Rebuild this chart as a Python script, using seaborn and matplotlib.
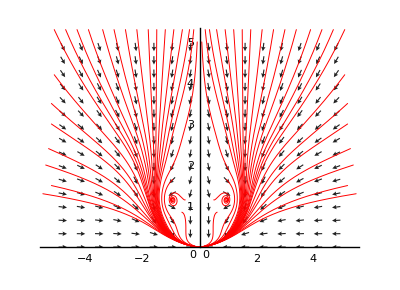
import numpy as np
import pandas as pd
import matplotlib
matplotlib.use("Agg")
import matplotlib.pyplot as plt
import seaborn as sns

# ---- data ----
x_grid = np.linspace(-4.8, 4.8, 16)
y_grid = np.linspace(0.0, 4.875, 16)
x_ticks = [-4, -2, 2, 4]
y_ticks = [1, 2, 3, 4, 5]
# initial points of the left-half solution curves (mirrored to the right)
seed_x = [-5.1, -4.7, -4.3, -3.9, -3.4, -3.0, -2.6, -2.2, -1.8, -1.5, -1.2, -0.9, -0.6, -0.35, -0.2, -0.08,
          -5.5, -5.2, -5.4, -5.3, -5.2, -5.2, -5.1, -0.5, -0.94, -0.62]
seed_y = [5.3, 5.3, 5.3, 5.3, 5.3, 5.3, 5.3, 5.3, 5.3, 5.3, 5.3, 5.3, 5.3, 5.3, 5.3, 5.0,
          1.3, 1.5, 2.0, 2.4, 3.0, 3.5, 4.2, 1.15, 1.65, 0.85]
# spiral centre of the left half
spiral_x, spiral_y = -0.94, 1.15

# ODE model parameters
q_inf, q_amp, q_rate = 2.4, 3.4, 1.5
a0, a1, a_mid, a_wid, b_beta = 0.6, 3.5, 1.2, 1.0, 0.24
omega, mu, sig_x, sig_up, sig_dn = 12.0, 1.3, 0.5, 0.7, 0.42


def field(x, y):
    Q = q_inf - q_amp * np.exp(-q_rate * y)
    bu = x * (Q - x ** 2)
    a = a0 + a1 * np.exp(-((y - a_mid) / a_wid) ** 2)
    bv = -y * (a + b_beta * y * x ** 2)
    sx = np.where(x < 0, -1.0, 1.0)
    dx = np.abs(x) + spiral_x
    dy = y - spiral_y
    sy = np.where(dy > 0, sig_up, sig_dn)
    w = np.exp(-(dx ** 2 / sig_x ** 2 + dy ** 2 / sy ** 2))
    # focus in the |x| frame (clockwise on the right, mirrored on the left)
    lu = omega * dy - mu * dx
    lv = -omega * dx - mu * dy
    return (1 - w) * bu + w * sx * lu, (1 - w) * bv + w * lv


def trace(x0, y0, h=0.012, n=3000):
    pts = [(x0, y0)]
    x, y = x0, y0

    def f(x, y):
        u, v = field(x, y)
        s = np.hypot(u, v)
        if s < 1e-9:
            return 0.0, 0.0
        return u / s, v / s

    for _ in range(n):
        k1 = f(x, y)
        k2 = f(x + h / 2 * k1[0], y + h / 2 * k1[1])
        k3 = f(x + h / 2 * k2[0], y + h / 2 * k2[1])
        k4 = f(x + h * k3[0], y + h * k3[1])
        x += h / 6 * (k1[0] + 2 * k2[0] + 2 * k3[0] + k4[0])
        y += h / 6 * (k1[1] + 2 * k2[1] + 2 * k3[1] + k4[1])
        pts.append((x, y))
        if np.hypot(x, y) < 0.02 or y < 0 or abs(x) > 5.7 or y > 5.5:
            break
        if np.hypot(abs(x) + spiral_x, y - spiral_y) < 0.025:
            break
    return np.array(pts)


sns.set_theme(style="white")
fig = plt.figure(figsize=(4, 2.9), dpi=100)
ax = fig.add_axes([0.1, 0.148, 0.7975, 0.757])

# direction arrows
XX, YY = np.meshgrid(x_grid, y_grid)
U, V = field(XX, YY)
S = np.hypot(U, V)
S[S == 0] = 1
ax.quiver(XX, YY, U / S, V / S, pivot="mid", angles="xy", scale_units="width",
          scale=38, width=0.0035, headwidth=4, headlength=4, headaxislength=3.5,
          color="#222222", zorder=2)

# solution curves
for sx, sy in zip(seed_x, seed_y):
    for sgn in (1, -1):
        p = trace(sgn * sx, sy)
        df = pd.DataFrame({"x": p[:, 0], "y": p[:, 1]})
        sns.lineplot(data=df, x="x", y="y", sort=False, estimator=None,
                     color="#ff0000", lw=0.7, ax=ax, zorder=3)

ax.set_xlim(-5.6, 5.6)
ax.set_ylim(0, 5.35)
ax.set_xlabel("")
ax.set_ylabel("")
for s in ["top", "right"]:
    ax.spines[s].set_visible(False)
ax.spines["left"].set_position(("data", 0))
ax.spines["bottom"].set_position(("data", 0))
for s in ["left", "bottom"]:
    ax.spines[s].set_color("black")
    ax.spines[s].set_linewidth(1.0)
    ax.spines[s].set_zorder(4)
ax.set_xticks(x_ticks)
ax.set_yticks(y_ticks)
ax.tick_params(axis="x", direction="inout", length=6, width=0.8, labelsize=8, pad=2, colors="black")
ax.tick_params(axis="y", direction="inout", length=6, width=0.8, labelsize=8, pad=1, colors="black")
ax.text(-0.12, -0.08, "0", ha="right", va="top", fontsize=8, color="black")
ax.text(0.1, -0.08, "0", ha="left", va="top", fontsize=8, color="black")
ax.grid(False)

fig.savefig("out.png", dpi=100)
